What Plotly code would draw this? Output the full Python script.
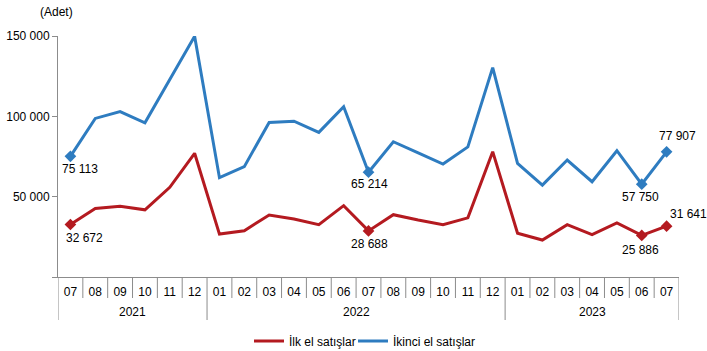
import plotly.graph_objects as go

# ---- data ----
months = ["07", "08", "09", "10", "11", "12",
          "01", "02", "03", "04", "05", "06", "07", "08", "09", "10", "11", "12",
          "01", "02", "03", "04", "05", "06", "07"]
years = ["2021", "2022", "2023"]
year_counts = [6, 12, 7]

ilk_el = [32672, 42700, 44000, 41800, 55800, 77000,
          26700, 28800, 38600, 36100, 32600, 44400, 28688, 38800, 35500, 32600, 36800, 78000,
          27200, 23000, 32600, 26400, 33700, 25886, 31641]
ikinci_el = [75113, 98700, 103000, 96000, 123000, 149800,
             61800, 68700, 96200, 97000, 90000, 106000, 65214, 84200, 77300, 70300, 81000, 130300,
             70700, 57200, 72800, 59300, 78600, 57750, 77907]

y_tickvals = [0, 50000, 100000, 150000]
y_ticktext = ["", "50 000", "100 000", "150 000"]

series_names = ["İlk el satışlar", "İkinci el satışlar"]
labeled_idx = [0, 12, 23, 24]

# ---- style ----
RED = "#B41A20"
BLUE = "#2E7CC0"
GRAY = "#8C8C8C"
FONT = "Liberation Sans, Arial, sans-serif"

x = list(range(len(months)))

fig = go.Figure()
for name, vals, col, lg in [(series_names[0], ilk_el, RED, "legend"),
                            (series_names[1], ikinci_el, BLUE, "legend2")]:
    fig.add_trace(go.Scatter(
        x=x, y=vals, mode="lines", name=name, legend=lg,
        line=dict(color=col, width=3),
        hoverinfo="skip",
    ))
    fig.add_trace(go.Scatter(
        x=[x[i] for i in labeled_idx], y=[vals[i] for i in labeled_idx],
        mode="markers", showlegend=False,
        marker=dict(symbol="diamond", size=9, color=col),
        hoverinfo="skip",
    ))

# value label offsets (pixels): (series, idx, xshift, yshift)
label_offsets = [
    (ikinci_el, 0, 10, -13), (ilk_el, 0, 14, -13),
    (ikinci_el, 12, 1, -12), (ilk_el, 12, 1, -13),
    (ikinci_el, 23, -1, -13), (ilk_el, 23, -1, -15),
    (ikinci_el, 24, 11, 16), (ilk_el, 24, 22, 12),
]
annotations = []
for vals, i, xs, ys in label_offsets:
    annotations.append(dict(
        x=x[i], y=vals[i], xref="x", yref="y",
        text=f"{vals[i]:,}".replace(",", " "),
        showarrow=False, xshift=xs, yshift=ys,
        font=dict(size=12, color="#000000", family=FONT),
    ))

# plot area geometry (pixels) used to convert separator lengths to paper units
PLOT_W = 621
PLOT_H = 241
short_len = 21 / PLOT_H
long_len = 43 / PLOT_H

shapes = []
boundaries = []
acc = -0.5
boundaries.append(acc)
for c in year_counts:
    acc += c
    boundaries.append(acc)
for k in range(len(months) + 1):
    b = k - 0.5
    ln = long_len if b in boundaries else short_len
    shapes.append(dict(type="line", xref="x", yref="paper",
                       x0=b, x1=b, y0=0, y1=-ln,
                       line=dict(color=GRAY, width=1)))

# year labels
start = 0
for yr, c in zip(years, year_counts):
    center = start + (c - 1) / 2
    annotations.append(dict(
        x=center, y=-35 / PLOT_H, xref="x", yref="paper",
        text=yr, showarrow=False, yanchor="middle",
        font=dict(size=12, color="#000000", family=FONT),
    ))
    start += c

annotations.append(dict(
    xref="paper", yref="paper",
    x=(56 - 58) / PLOT_W, y=1 + (36 - 12) / PLOT_H,
    xanchor="center", yanchor="middle",
    text="(Adet)", showarrow=False,
    font=dict(size=12, color="#000000", family=FONT),
))

legend_common = dict(
    orientation="h", xanchor="left",
    y=-(341 - 277) / PLOT_H, yanchor="middle",
    font=dict(size=12, color="#000000", family=FONT),
    bgcolor="rgba(0,0,0,0)",
)

fig.update_layout(
    width=707, height=351,
    margin=dict(l=58, r=28, t=36, b=74, autoexpand=False),
    paper_bgcolor="white", plot_bgcolor="white",
    font=dict(family=FONT, size=12, color="#000000"),
    xaxis=dict(
        range=[-0.5, len(months) - 0.5],
        tickvals=x, ticktext=months,
        showgrid=False, zeroline=False,
        showline=True, linecolor=GRAY, linewidth=1,
        ticks="", ticklabelstandoff=4, automargin=False,
        tickfont=dict(size=12, color="#000000", family=FONT),
    ),
    yaxis=dict(
        range=[0, 150000],
        tickvals=y_tickvals, ticktext=y_ticktext,
        showgrid=False, zeroline=False,
        showline=True, linecolor=GRAY, linewidth=1,
        ticks="outside", ticklen=5, tickcolor=GRAY, automargin=False,
        tickfont=dict(size=12, color="#000000", family=FONT),
    ),
    legend=dict(x=(249 - 58) / PLOT_W, **legend_common),
    legend2=dict(x=(353 - 58) / PLOT_W, **legend_common),
    shapes=shapes,
    annotations=annotations,
    showlegend=True,
)

fig.write_html("out.html")
